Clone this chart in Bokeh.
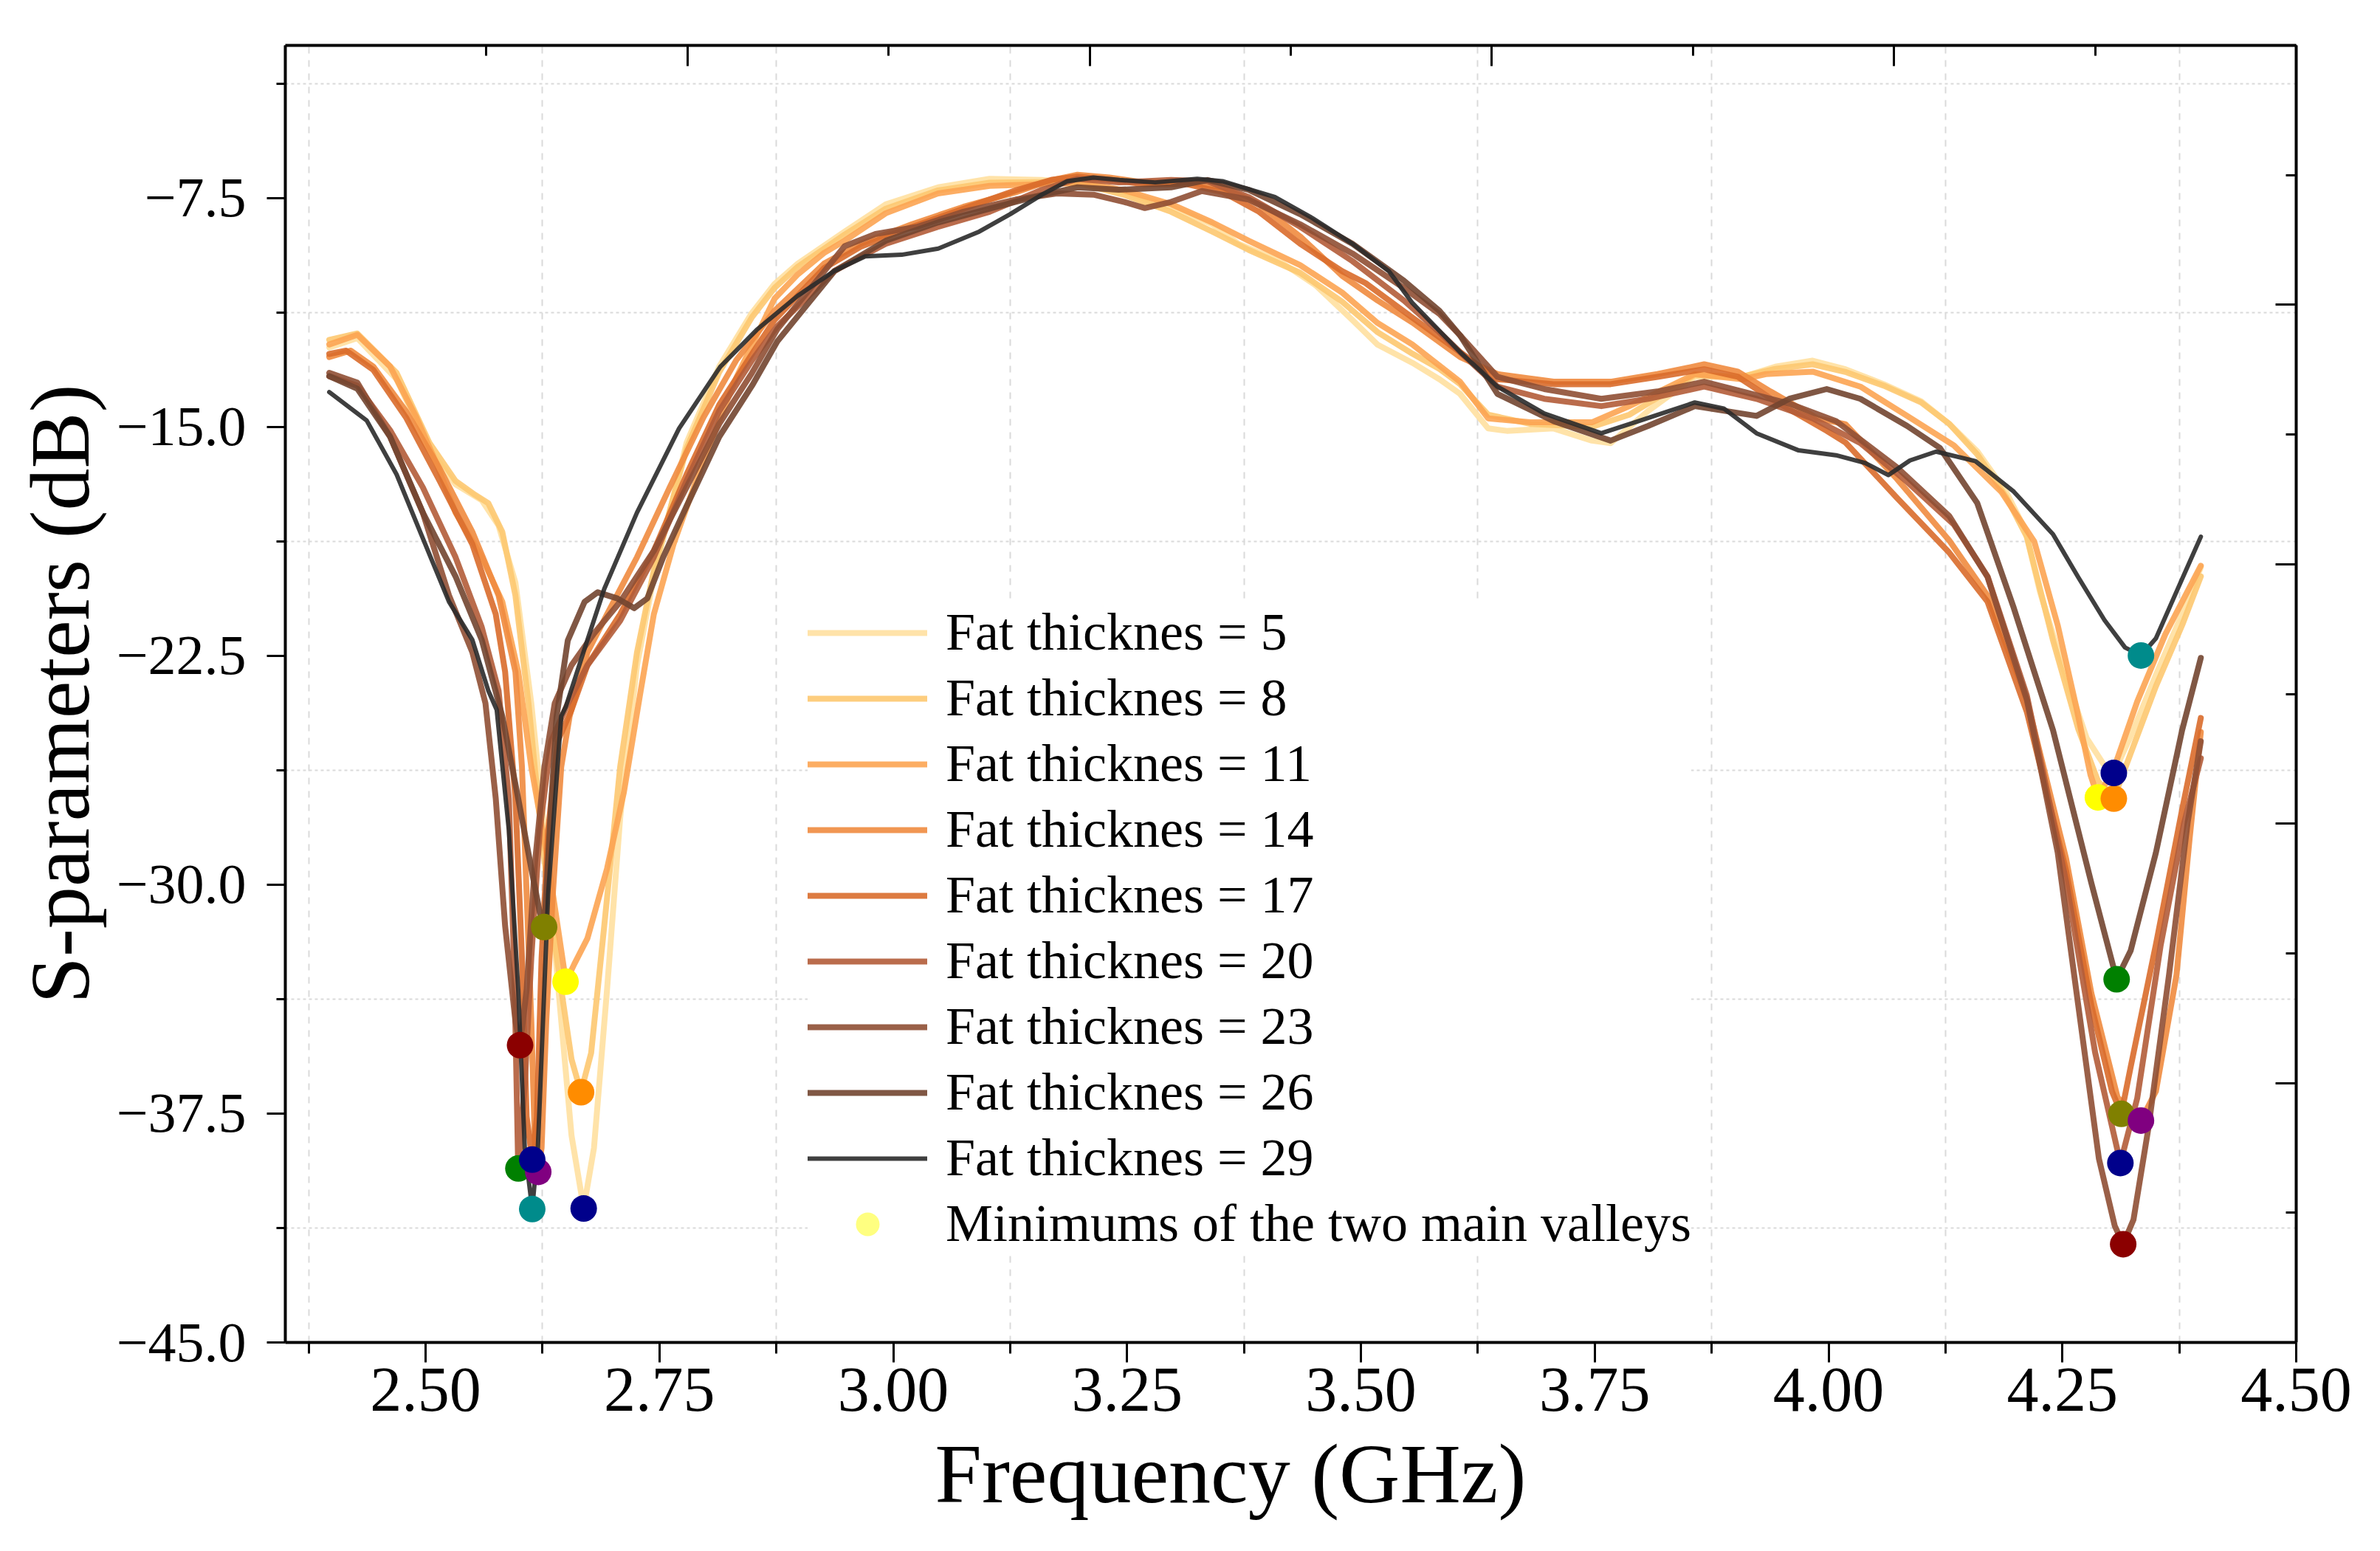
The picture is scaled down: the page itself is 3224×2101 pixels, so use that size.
from bokeh.plotting import figure
from bokeh.models import (LinearAxis, FixedTicker, CustomJSTickFormatter, Legend,
                          LegendItem, Range1d, Title)
from bokeh.embed import file_html
from bokeh.resources import INLINE

# ---------------- data ----------------
thickness = [5, 8, 11, 14, 17, 20, 23, 26, 29]

f5 = [2.397, 2.427, 2.469, 2.504, 2.532, 2.560, 2.578, 2.596, 2.613, 2.627, 2.642, 2.656, 2.669, 2.680, 2.694,
      2.708, 2.726, 2.744, 2.779, 2.814, 2.849, 2.873, 2.898, 2.948, 2.992, 3.048, 3.103, 3.159, 3.203, 3.247,
      3.297, 3.341, 3.369, 3.413, 3.452, 3.491, 3.518, 3.555, 3.584, 3.606, 3.636, 3.656, 3.706, 3.747, 3.767,
      3.807, 3.857, 3.908, 3.943, 3.983, 4.018, 4.059, 4.099, 4.129, 4.159, 4.190, 4.210, 4.226, 4.254, 4.276,
      4.295, 4.305, 4.323, 4.350, 4.378, 4.398]
s5 = [-12.40, -12.09, -13.44, -15.73, -16.88, -17.40, -18.23, -20.10, -24.06, -28.22, -33.43, -38.22, -40.60, -38.63, -33.43,
      -27.81, -22.81, -19.90, -15.52, -13.02, -11.26, -10.32, -9.65, -8.60, -7.71, -7.15, -6.87, -6.91, -7.03, -7.31,
      -7.79, -8.36, -9.00, -9.57, -10.37, -11.50, -12.31, -12.90, -13.44, -13.92, -15.05, -15.13, -15.05, -15.45, -15.53,
      -14.48, -13.36, -13.36, -13.03, -12.83, -13.11, -13.60, -14.16, -14.90, -15.80, -17.14, -18.35, -20.40, -23.20, -25.20,
      -26.10, -26.34, -25.14, -23.13, -21.13, -19.60]

f8 = [2.397, 2.427, 2.469, 2.504, 2.532, 2.553, 2.567, 2.582, 2.596, 2.610, 2.620, 2.631, 2.645, 2.656, 2.666,
      2.677, 2.691, 2.708, 2.726, 2.744, 2.779, 2.814, 2.849, 2.873, 2.898, 2.948, 2.992, 3.048, 3.103, 3.159,
      3.203, 3.247, 3.297, 3.341, 3.380, 3.435, 3.480, 3.518, 3.555, 3.584, 3.606, 3.636, 3.681, 3.747, 3.787,
      3.857, 3.908, 3.943, 3.983, 4.018, 4.059, 4.099, 4.129, 4.159, 4.190, 4.212, 4.240, 4.267, 4.288, 4.305,
      4.323, 4.350, 4.378, 4.398]
s8 = [-12.15, -11.94, -13.23, -15.52, -16.77, -17.23, -17.50, -18.44, -20.52, -24.06, -27.18, -30.31, -33.43, -35.72, -36.80,
      -35.51, -31.35, -26.14, -22.39, -19.70, -15.70, -13.20, -11.40, -10.45, -9.75, -8.70, -7.85, -7.25, -7.00, -6.98,
      -7.05, -7.40, -7.95, -8.60, -9.20, -9.95, -10.90, -11.90, -12.60, -13.10, -13.60, -14.60, -14.90, -15.00, -14.60,
      -13.30, -13.35, -13.10, -12.95, -13.20, -13.65, -14.20, -14.90, -15.90, -17.30, -18.60, -22.00, -24.90, -26.60, -27.18,
      -25.70, -23.50, -21.50, -19.90]

f11 = [2.397, 2.427, 2.462, 2.490, 2.511, 2.532, 2.560, 2.582, 2.599, 2.613, 2.631, 2.650, 2.659, 2.673, 2.694,
       2.712, 2.730, 2.744, 2.765, 2.797, 2.832, 2.873, 2.898, 2.926, 2.948, 2.992, 3.048, 3.103, 3.159, 3.203,
       3.247, 3.297, 3.341, 3.380, 3.435, 3.480, 3.518, 3.555, 3.606, 3.636, 3.681, 3.747, 3.787, 3.857, 3.908,
       3.933, 3.983, 4.034, 4.084, 4.134, 4.185, 4.220, 4.245, 4.265, 4.280, 4.288, 4.305, 4.330, 4.360, 4.398]
s11 = [-12.30, -11.98, -13.02, -14.69, -16.15, -17.81, -19.27, -20.73, -23.02, -26.14, -29.26, -33.18, -32.60, -31.76, -29.47,
       -26.97, -23.64, -21.14, -18.85, -16.10, -13.40, -10.80, -10.00, -9.30, -8.90, -8.00, -7.35, -7.10, -7.05, -7.00,
       -7.25, -7.70, -8.30, -8.90, -9.70, -10.60, -11.60, -12.30, -13.52, -14.72, -14.85, -14.85, -14.32, -13.27, -13.44,
       -13.27, -13.19, -13.68, -14.64, -15.61, -17.14, -18.76, -21.50, -24.20, -26.40, -27.14, -26.20, -24.00, -21.80, -19.55]

f14 = [2.397, 2.420, 2.444, 2.479, 2.515, 2.550, 2.578, 2.596, 2.603, 2.608, 2.613, 2.617, 2.620, 2.624, 2.629,
       2.636, 2.645, 2.654, 2.673, 2.694, 2.726, 2.761, 2.797, 2.832, 2.873, 2.926, 2.965, 3.020, 3.075, 3.131,
       3.170, 3.197, 3.231, 3.269, 3.314, 3.352, 3.391, 3.435, 3.480, 3.518, 3.555, 3.606, 3.646, 3.706, 3.767,
       3.817, 3.867, 3.903, 3.938, 3.988, 4.018, 4.073, 4.129, 4.170, 4.212, 4.254, 4.281, 4.309, 4.334, 4.350,
       4.372, 4.386, 4.398]
s14 = [-12.71, -12.50, -13.02, -14.48, -16.36, -18.44, -20.52, -23.02, -26.14, -30.31, -34.47, -38.63, -39.41, -38.63, -34.47,
       -30.31, -26.14, -24.48, -22.39, -21.14, -19.27, -16.98, -14.69, -12.82, -11.20, -9.65, -9.00, -8.36, -7.79, -7.31,
       -6.91, -6.74, -6.83, -6.99, -6.99, -7.15, -7.71, -8.76, -10.05, -10.86, -11.58, -12.71, -13.27, -13.52, -13.52,
       -13.27, -12.95, -13.19, -13.84, -14.72, -14.91, -16.70, -18.72, -20.53, -23.94, -29.15, -33.56, -36.97, -37.73, -36.77,
       -32.96, -28.50, -25.00]

f17 = [2.397, 2.415, 2.444, 2.479, 2.515, 2.550, 2.575, 2.585, 2.596, 2.603, 2.608, 2.614, 2.619, 2.624, 2.631,
       2.641, 2.656, 2.673, 2.708, 2.744, 2.779, 2.814, 2.849, 2.873, 2.926, 2.965, 3.020, 3.075, 3.131, 3.170,
       3.197, 3.231, 3.269, 3.314, 3.352, 3.391, 3.435, 3.480, 3.505, 3.555, 3.606, 3.646, 3.706, 3.767, 3.817,
       3.867, 3.903, 3.943, 3.998, 4.018, 4.073, 4.129, 4.170, 4.212, 4.254, 4.281, 4.303, 4.313, 4.323, 4.350,
       4.378, 4.398]
s17 = [-12.61, -12.50, -13.13, -14.69, -16.77, -18.85, -21.14, -23.02, -27.18, -32.39, -37.60, -39.01, -37.60, -32.39, -28.22,
       -25.31, -24.27, -22.81, -21.14, -19.06, -16.56, -14.27, -12.61, -11.50, -9.80, -9.10, -8.45, -7.85, -7.25, -6.90,
       -6.80, -6.90, -7.05, -7.05, -7.30, -7.95, -9.00, -9.90, -10.29, -11.42, -12.55, -13.44, -13.60, -13.60, -13.36,
       -13.11, -13.36, -14.16, -15.13, -15.51, -17.32, -19.12, -20.73, -24.34, -29.55, -33.96, -36.77, -37.51, -35.97, -31.96,
       -27.54, -24.54]

f20 = [2.397, 2.427, 2.462, 2.497, 2.532, 2.560, 2.578, 2.589, 2.595, 2.599, 2.606, 2.613, 2.622, 2.634, 2.652,
       2.673, 2.708, 2.744, 2.779, 2.814, 2.849, 2.876, 2.937, 2.992, 3.048, 3.103, 3.159, 3.197, 3.241, 3.297,
       3.336, 3.380, 3.435, 3.491, 3.546, 3.584, 3.606, 3.646, 3.696, 3.757, 3.807, 3.867, 3.923, 3.983, 4.034,
       4.084, 4.134, 4.170, 4.212, 4.254, 4.285, 4.312, 4.330, 4.355, 4.380, 4.398]
s20 = [-13.34, -13.65, -15.11, -16.98, -19.27, -21.56, -23.64, -27.18, -33.00, -39.30, -36.55, -32.39, -28.22, -25.31, -24.06,
       -22.81, -21.35, -19.27, -16.77, -14.48, -12.82, -11.70, -9.89, -9.00, -8.44, -7.95, -7.23, -6.87, -6.99, -6.91,
       -6.95, -7.47, -8.44, -9.57, -10.86, -11.90, -12.55, -13.68, -14.08, -14.32, -14.08, -13.68, -14.08, -14.72, -15.53,
       -16.80, -18.20, -19.90, -23.80, -29.90, -35.50, -39.12, -37.00, -32.00, -28.00, -25.86]

f23 = [2.397, 2.427, 2.462, 2.497, 2.525, 2.550, 2.564, 2.575, 2.585, 2.596, 2.601, 2.608, 2.617, 2.627, 2.638,
       2.656, 2.680, 2.708, 2.744, 2.779, 2.814, 2.849, 2.876, 2.948, 2.981, 3.026, 3.075, 3.131, 3.175, 3.214,
       3.247, 3.269, 3.297, 3.330, 3.380, 3.435, 3.491, 3.546, 3.584, 3.606, 3.646, 3.696, 3.757, 3.817, 3.867,
       3.918, 3.958, 4.008, 4.073, 4.129, 4.170, 4.212, 4.245, 4.267, 4.289, 4.306, 4.315, 4.326, 4.342, 4.364,
       4.384, 4.398]
s23 = [-13.23, -13.55, -15.32, -17.81, -20.52, -22.39, -24.06, -27.18, -31.35, -34.47, -35.26, -33.43, -29.26, -26.14, -24.06,
       -22.81, -21.77, -20.73, -19.06, -16.98, -14.90, -13.23, -11.80, -9.08, -8.68, -8.44, -7.95, -7.55, -7.35, -7.39,
       -7.63, -7.83, -7.63, -7.27, -7.55, -8.36, -9.32, -10.45, -11.30, -12.00, -13.36, -13.76, -14.08, -13.84, -13.52,
       -13.92, -14.24, -14.81, -16.32, -17.92, -19.92, -23.94, -28.95, -33.96, -38.97, -41.18, -41.78, -40.98, -37.97, -32.96,
       -27.95, -25.30]

f26 = [2.397, 2.427, 2.462, 2.497, 2.532, 2.560, 2.582, 2.599, 2.613, 2.622, 2.627, 2.633, 2.640, 2.652, 2.670,
       2.684, 2.705, 2.723, 2.737, 2.754, 2.779, 2.814, 2.849, 2.876, 2.937, 2.992, 3.048, 3.103, 3.159, 3.197,
       3.241, 3.297, 3.336, 3.380, 3.435, 3.491, 3.546, 3.584, 3.606, 3.646, 3.706, 3.767, 3.807, 3.857, 3.923,
       3.958, 3.998, 4.034, 4.084, 4.119, 4.159, 4.198, 4.240, 4.281, 4.308, 4.323, 4.350, 4.378, 4.398]
s26 = [-13.34, -13.75, -15.32, -17.81, -19.90, -21.98, -24.48, -27.18, -29.47, -30.90, -31.39, -28.00, -24.50, -22.00, -20.73,
       -20.42, -20.62, -20.94, -20.62, -19.27, -17.60, -15.32, -13.65, -12.20, -9.90, -8.90, -8.30, -7.85, -7.40, -7.15,
       -7.23, -7.15, -6.91, -7.23, -8.03, -9.00, -10.21, -11.20, -12.00, -13.92, -14.81, -15.45, -14.97, -14.32, -14.64,
       -14.08, -13.76, -14.08, -14.97, -15.69, -17.50, -20.93, -24.94, -29.95, -33.10, -32.16, -28.95, -24.94, -22.57]

f29 = [2.397, 2.437, 2.469, 2.497, 2.525, 2.550, 2.567, 2.576, 2.589, 2.599, 2.606, 2.614, 2.620, 2.631, 2.645,
       2.650, 2.673, 2.691, 2.726, 2.771, 2.815, 2.854, 2.898, 2.937, 2.970, 3.009, 3.048, 3.092, 3.125, 3.159,
       3.186, 3.214, 3.242, 3.280, 3.325, 3.352, 3.408, 3.446, 3.491, 3.530, 3.555, 3.606, 3.646, 3.696, 3.757,
       3.797, 3.857, 3.888, 3.923, 3.968, 4.008, 4.039, 4.064, 4.087, 4.115, 4.157, 4.198, 4.240, 4.267, 4.295,
       4.317, 4.334, 4.350, 4.373, 4.398]
s29 = [-13.86, -14.79, -16.56, -18.65, -20.73, -21.98, -23.64, -24.27, -28.22, -33.43, -38.63, -40.63, -38.63, -30.31, -24.48,
       -24.16, -21.98, -20.31, -17.81, -15.05, -13.03, -11.82, -10.70, -9.89, -9.41, -9.36, -9.16, -8.60, -8.03, -7.39,
       -6.95, -6.83, -6.91, -6.99, -6.87, -6.95, -7.47, -8.12, -9.00, -9.90, -10.94, -12.55, -13.68, -14.56, -15.21,
       -14.81, -14.20, -14.40, -15.21, -15.77, -15.93, -16.18, -16.58, -16.10, -15.81, -16.12, -17.12, -18.52, -19.93, -21.33,
       -22.23, -22.49, -21.93, -20.33, -18.60]

freqs = [f5, f8, f11, f14, f17, f20, f23, f26, f29]
sparams = [s5, s8, s11, s14, s17, s20, s23, s26, s29]

# minimums of the two main valleys
min_f = [2.6496, 2.6267, 2.6010, 2.6662, 2.5992, 2.6204, 2.6140, 2.6140, 2.6690,
         4.3340, 4.2880, 4.3050, 4.3050, 4.3080, 4.3130, 4.3340, 4.3120, 4.3150]
min_s = [-33.18, -31.39, -35.26, -36.80, -39.30, -39.41, -39.01, -40.63, -40.61,
         -22.49, -27.14, -27.18, -26.34, -33.10, -37.51, -37.73, -39.12, -41.78]

x_major = [2.50, 2.75, 3.00, 3.25, 3.50, 3.75, 4.00, 4.25, 4.50]
x_labels = ["2.50", "2.75", "3.00", "3.25", "3.50", "3.75", "4.00", "4.25", "4.50"]
x_minor = [2.375, 2.625, 2.875, 3.125, 3.375, 3.625, 3.875, 4.125, 4.375]
y_major = [-45.0, -37.5, -30.0, -22.5, -15.0, -7.5]
y_labels = ["\u221245.0", "\u221237.5", "\u221230.0", "\u221222.5", "\u221215.0", "\u22127.5"]
y_minor = [-41.25, -33.75, -26.25, -18.75, -11.25, -3.75]
top_major = [2.35, 2.78, 3.21, 3.64, 4.07, 4.50]
top_minor = [2.565, 2.995, 3.425, 3.855, 4.285]
right_major = [-45.0, -36.5, -28.0, -19.5, -11.0, -2.5]
right_minor = [-40.75, -32.25, -23.75, -15.25, -6.75]

# ---------------- styles ----------------
line_colors = ["#FFE0A0", "#FDC870", "#FCA452", "#F08B3F", "#D96B2B", "#B35C39", "#8F4F34", "#724530", "#2A2A2A"]
dot_colors = ["#FFFF00", "#808000", "#8B0000", "#FF8C00", "#008000", "#800080", "#00008B", "#008B8B", "#00008B",
              "#008B8B", "#FFFF00", "#FF8C00", "#00008B", "#008000", "#808000", "#800080", "#00008B", "#8B0000"]
FONT = "Liberation Serif"

p = figure(width=3208, height=2085, x_range=Range1d(2.35, 4.5), y_range=Range1d(-45, -2.5),
           output_backend="svg", toolbar_location=None,
           min_border_left=386, min_border_right=98, min_border_top=61, min_border_bottom=267)
p.outline_line_color = None
p.background_fill_color = "white"
p.border_fill_color = "white"

lookup = """
let best = 0; let d = 1e9;
for (let i = 0; i < vals.length; i++) { const e = Math.abs(vals[i] - tick); if (e < d) { d = e; best = i; } }
return labs[best];
"""

xa = p.below[0]
xa.ticker = FixedTicker(ticks=x_major, minor_ticks=x_minor)
xa.formatter = CustomJSTickFormatter(args=dict(vals=x_major, labs=x_labels), code=lookup)
ya = p.left[0]
ya.ticker = FixedTicker(ticks=y_major, minor_ticks=y_minor)
ya.formatter = CustomJSTickFormatter(args=dict(vals=y_major, labs=y_labels), code=lookup)
ya.axis_label = "S-parameters (dB)"

for ax, fs in ((xa, "86px"), (ya, "76px")):
    ax.axis_line_width = 4
    ax.axis_line_color = "black"
    ax.major_tick_in = 0
    ax.minor_tick_in = 0
    ax.major_tick_line_width = 3
    ax.minor_tick_line_width = 3
    ax.major_label_text_font = FONT
    ax.major_label_text_font_size = fs
    ax.major_label_text_color = "black"
    ax.axis_label_text_font = FONT
    ax.axis_label_text_font_size = "114px"
    ax.axis_label_text_font_style = "normal"
    ax.axis_label_text_color = "black"
xa.major_tick_out = 27
xa.minor_tick_out = 15
xa.major_label_standoff = 8
ya.major_tick_out = 25
ya.minor_tick_out = 12
ya.major_label_standoff = 28
ya.axis_label_standoff = 10

# x-axis title, placed below the axis (slightly left of centre as in the original)
p.add_layout(Title(text="Frequency (GHz)", align="left", offset=880, standoff=34,
                   text_font=FONT, text_font_size="114px", text_font_style="normal",
                   text_color="black"), "below")

top_ax = LinearAxis(ticker=FixedTicker(ticks=top_major, minor_ticks=top_minor),
                    formatter=CustomJSTickFormatter(code="return '';"))
right_ax = LinearAxis(ticker=FixedTicker(ticks=right_major, minor_ticks=right_minor),
                      formatter=CustomJSTickFormatter(code="return '';"))
for ax in (top_ax, right_ax):
    ax.axis_line_width = 4
    ax.major_tick_in = 28
    ax.major_tick_out = 0
    ax.minor_tick_in = 14
    ax.minor_tick_out = 0
    ax.major_tick_line_width = 3
    ax.minor_tick_line_width = 3
    ax.major_label_standoff = 0
p.add_layout(top_ax, "above")
p.add_layout(right_ax, "right")

p.xgrid[0].ticker = FixedTicker(ticks=x_minor)
p.ygrid[0].ticker = FixedTicker(ticks=y_minor)
p.xgrid[0].grid_line_color = "#dadada"
p.xgrid[0].grid_line_width = 2
p.xgrid[0].grid_line_dash = "9 9"
p.ygrid[0].grid_line_color = "#dadada"
p.ygrid[0].grid_line_width = 2
p.ygrid[0].grid_line_dash = "4 4"

items = []
for t, f, s, c in zip(thickness, freqs, sparams, line_colors):
    r = p.line(f, s, line_color=c, line_width=6 if t == 29 else 8, line_alpha=0.9,
               line_join="round", line_cap="round")
    items.append(LegendItem(label=f"Fat thicknes = {t}", renderers=[r]))

# legend marker (drawn underneath the coloured minimum dots)
legend_dot = p.scatter(min_f, min_s, size=30, fill_color="#FFFF80", line_color=None)
p.scatter(min_f, min_s, size=36, fill_color=dot_colors, line_color=None)
items.append(LegendItem(label="Minimums of the two main valleys", renderers=[legend_dot]))

legend = Legend(items=items, location=(708, 119),
                label_text_font=FONT, label_text_font_size="72px", label_text_color="black",
                glyph_width=162, glyph_height=80, label_height=80, label_standoff=25,
                spacing=6, padding=10, margin=0,
                border_line_color=None, background_fill_color="white", background_fill_alpha=1.0)
p.add_layout(legend)

open("out.html", "w", encoding="utf-8").write(file_html(p, INLINE))
